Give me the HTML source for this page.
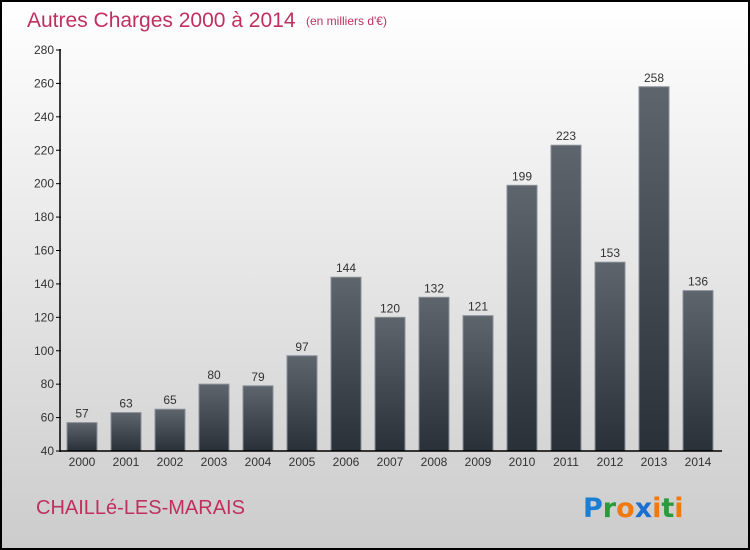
<!DOCTYPE html>
<html><head><meta charset="utf-8"><style>
body{margin:0;}
#c{width:750px;height:550px;position:relative;overflow:hidden;font-family:"Liberation Sans",sans-serif;}
</style></head><body>
<div id="c">
<svg width="750" height="550" xmlns="http://www.w3.org/2000/svg" id="svg">
<defs>
<linearGradient id="bg" x1="0" y1="0" x2="0" y2="1"><stop offset="0" stop-color="#ffffff"/><stop offset="1" stop-color="#cccccc"/></linearGradient>
<linearGradient id="bar" x1="0" y1="0" x2="0" y2="1"><stop offset="0" stop-color="#5f656d"/><stop offset="1" stop-color="#2a3038"/></linearGradient>
</defs>
<rect x="1" y="1" width="748" height="548" fill="url(#bg)" stroke="#000" stroke-width="2"/>
<text x="27" y="27" font-size="21" fill="#c0305e">Autres Charges 2000 à 2014</text>
<text x="306" y="25" font-size="12" fill="#c0305e">(en milliers d'€)</text>
<g id="plot"></g>
<text x="36" y="514" font-size="20" fill="#c0305e">CHAILLé-LES-MARAIS</text>
<g font-size="27" font-weight="bold" font-family="'DejaVu Sans',sans-serif">
<text x="583" y="517"><tspan fill="#1a7fd4">P</tspan><tspan fill="#2a9a3a">r</tspan><tspan fill="#f07a10">o</tspan><tspan fill="#1a6fd0">x</tspan><tspan fill="#f07a10">i</tspan><tspan fill="#2a9a3a">t</tspan><tspan fill="#f07a10">i</tspan></text>
</g>
</svg>
</div>
<script>
const categories=["2000","2001","2002","2003","2004","2005","2006","2007","2008","2009","2010","2011","2012","2013","2014"];
const values=[57,63,65,80,79,97,144,120,132,121,199,223,153,258,136];
const yTicks=[40,60,80,100,120,140,160,180,200,220,240,260,280];
const NS="http://www.w3.org/2000/svg";
const g=document.getElementById('plot');
const y=v=>451-(v-40)*401/240;
const x=i=>82+i*44;
function mk(t,a){const e=document.createElementNS(NS,t);for(const k in a)e.setAttribute(k,a[k]);g.appendChild(e);return e;}
yTicks.forEach(t=>{
 const l=mk('line',{x1:56,x2:61,y1:y(t),y2:y(t),stroke:'#000'});
 
 
 const tx=mk('text',{x:54,y:y(t)+4,'font-size':12,'text-anchor':'end',fill:'#333'});
 tx.textContent=t;
 
 
});
values.forEach((v,i)=>{
 const r=mk('rect',{x:x(i)-15,y:y(v),width:30,height:451-y(v),fill:'url(#bar)',stroke:'#8a9098','stroke-width':1});
 
 
 const t=mk('text',{x:x(i),y:y(v)-5,'font-size':12,'text-anchor':'middle',fill:'#333'});
 t.textContent=v;
 
 
 const c=mk('text',{x:x(i),y:466,'font-size':12,'text-anchor':'middle',fill:'#333'});
 c.textContent=categories[i];
 
 
});
const ya=mk('line',{x1:60,x2:60,y1:49,y2:452,stroke:'#000','stroke-width':1.5});


const xa=mk('line',{x1:60,x2:722,y1:451,y2:451,stroke:'#000','stroke-width':1.5});


</script>
</body></html>
